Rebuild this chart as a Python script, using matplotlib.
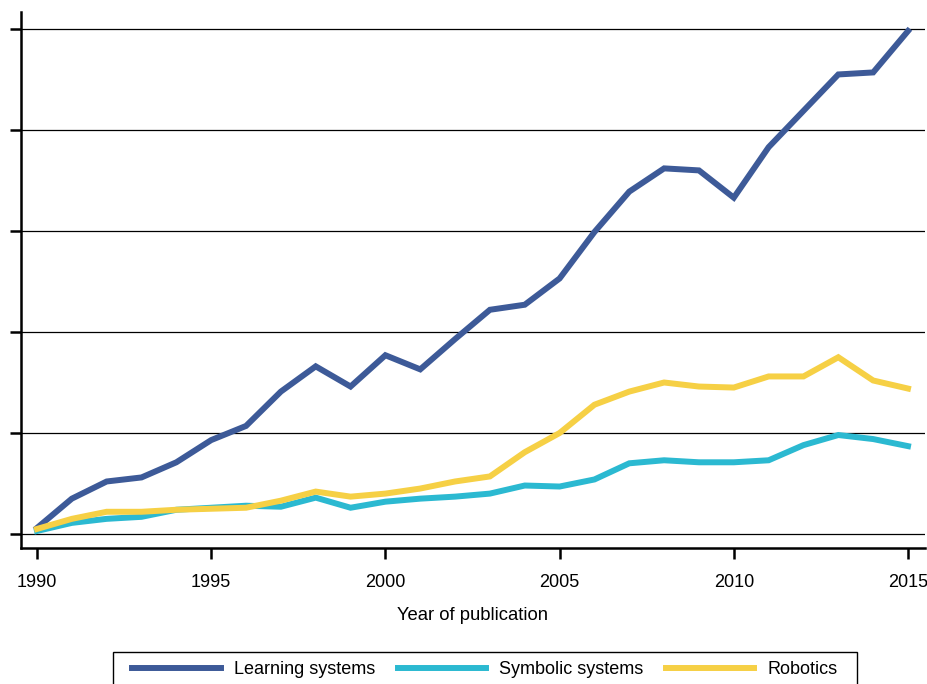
import matplotlib.pyplot as plt
from matplotlib.patches import Rectangle
import numpy as np

plt.rcParams['font.family'] = ['Liberation Sans', 'DejaVu Sans']

years = list(range(1990, 2016))

# values in gridline units (unlabelled y axis)
learning = [0.06, 0.35, 0.52, 0.56, 0.71, 0.93, 1.07, 1.41, 1.66, 1.46,
            1.77, 1.63, 1.93, 2.22, 2.27, 2.53, 2.99, 3.39, 3.62, 3.60,
            3.33, 3.83, 4.19, 4.55, 4.57, 4.98]
symbolic = [0.03, 0.11, 0.15, 0.17, 0.24, 0.26, 0.28, 0.27, 0.36, 0.26,
            0.32, 0.35, 0.37, 0.40, 0.48, 0.47, 0.54, 0.70, 0.73, 0.71,
            0.71, 0.73, 0.88, 0.98, 0.94, 0.87]
robotics = [0.05, 0.15, 0.22, 0.22, 0.24, 0.25, 0.26, 0.33, 0.42, 0.37,
            0.40, 0.45, 0.52, 0.57, 0.81, 1.00, 1.28, 1.41, 1.50, 1.46,
            1.45, 1.56, 1.56, 1.75, 1.52, 1.44]

series_names = ["Learning systems", "Symbolic systems", "Robotics"]
colors = ["#3d5a98", "#2bb9d1", "#f6d045"]

xticks = [1990, 1995, 2000, 2005, 2010, 2015]
yticks = [0, 1, 2, 3, 4, 5]

fig = plt.figure(figsize=(9.28, 6.84), dpi=100)
ax = fig.add_axes([21/928, 1 - 548/684, (925 - 21)/928, (548 - 12)/684])

for vals, name, c in zip([learning, symbolic, robotics], series_names, colors):
    ax.plot(years, vals, color=c, lw=4.3, label=name, solid_joinstyle='miter',
            zorder=3)

ax.set_xlim(1990 - 16/34.84, 1990 + (925 - 37)/34.84)
ax.set_ylim(-14/101, (534 - 12)/101)
ax.set_xticks(xticks)
ax.set_yticks(yticks)
ax.set_yticklabels([])
ax.grid(axis='y', color='black', lw=0.9)
ax.set_axisbelow(True)

for s in ['top', 'right']:
    ax.spines[s].set_visible(False)
for s in ['left', 'bottom']:
    ax.spines[s].set_linewidth(1.8)
ax.tick_params(axis='both', length=8, width=1.8, labelsize=13, color='black')
ax.tick_params(axis='x', pad=11)
ax.set_xlabel("Year of publication", fontsize=13.3, labelpad=11)

# legend without its own frame, boxed by a rectangle running off the bottom
fig.legend(loc='upper center', bbox_to_anchor=(485/928, 1 - 652/684), ncol=3,
           fontsize=13, frameon=False,
           handlelength=4.9, handletextpad=0.72, columnspacing=1.25,
           borderpad=0.5, borderaxespad=0)
fig.patches.append(Rectangle((113/928, -0.05), (857 - 113)/928,
                             0.05 + 1 - 652/684, transform=fig.transFigure,
                             fill=False, edgecolor='black', lw=1.0))

fig.savefig("out.png", dpi=100)
